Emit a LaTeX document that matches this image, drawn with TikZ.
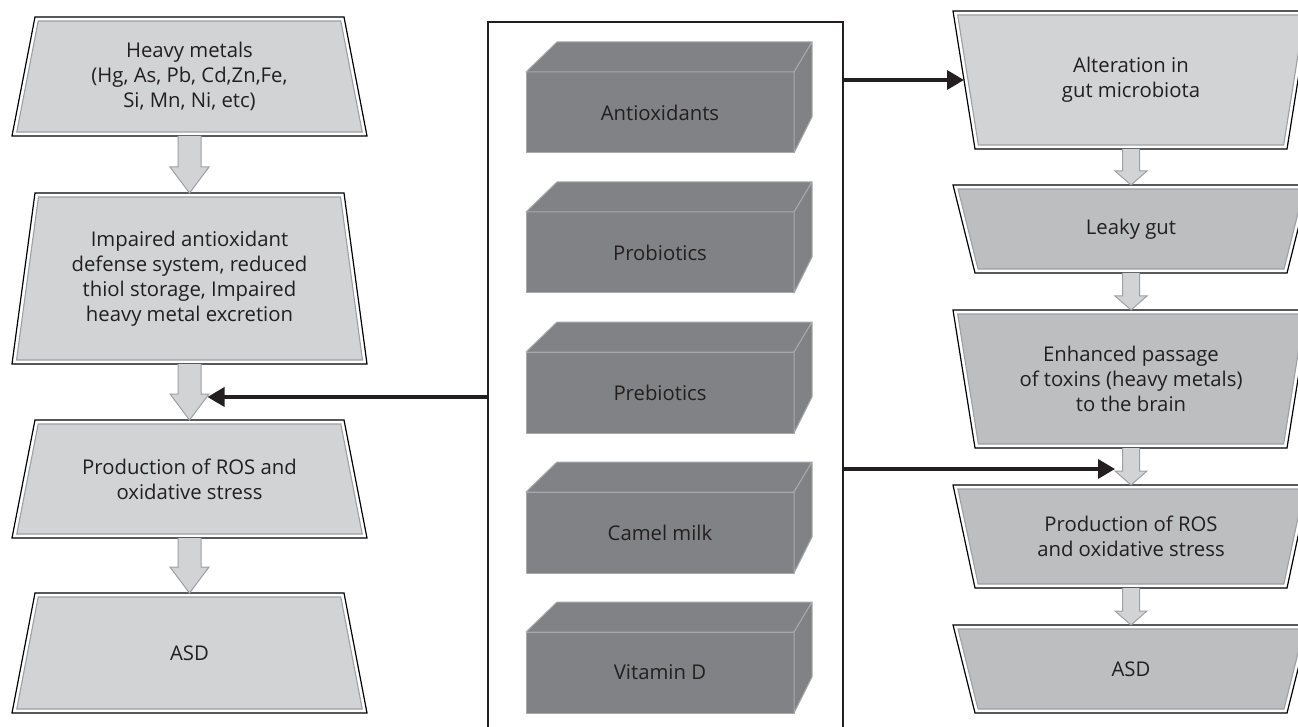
\documentclass[tikz,border=0pt]{standalone}
\usepackage{fontspec}
\setmainfont{Open Sans}
\usetikzlibrary{calc}
\usetikzlibrary{arrows.meta}

\definecolor{inkgray}{HTML}{231F20}
\definecolor{boxlight}{HTML}{D1D3D4}
\definecolor{boxdark}{HTML}{BCBEC0}
\definecolor{rimgray}{HTML}{9D9FA2}
\definecolor{cubegray}{HTML}{808285}
\definecolor{cubeedge}{HTML}{A7A9AC}

\begin{document}
\begin{tikzpicture}[x=1pt, y=-1pt, >={Triangle[length=17pt, width=19pt]},
outer/.style={draw=black, line width=1.2pt, fill=white},
rim/.style={draw=rimgray, line width=1.1pt},
cube/.style={draw=cubeedge, line width=1pt, fill=cubegray, line join=round},
blockarrow/.style={draw=rimgray, line width=1pt, fill=boxlight},
label/.style={align=center, text=inkgray, font=\fontsize{20.3}{25}\selectfont, inner sep=0pt},
link/.style={->, line width=3.6pt, draw=inkgray}]

\useasboundingbox (0,0) rectangle (1298,727);

%%%%%% TRAPEZIA %%%%%%%%%%

\foreach \nm/\cx/\yt/\yb/\tw/\bw/\col/\txt in {
  metals/189.5/17/136/154.5/177.5/boxlight/{Heavy metals\\(Hg, As, Pb, Cd,Zn,Fe,\\Si, Mn, Ni, etc)},
  defense/189.5/193/364/154.5/177.5/boxlight/{Impaired antioxidant\\defense system, reduced\\thiol storage, Impaired\\heavy metal excretion},
  ros/189.5/420/538/154.5/177.5/boxlight/{Production of ROS and\\oxidative stress},
  asd/189.5/593/713/154.5/177.5/boxlight/{ASD},
  microbiota/1131/11/149/178/156/boxlight/{Alteration in\\gut microbiota},
  leaky/1131/185/273/178/156/boxdark/{Leaky gut},
  passage/1131/310/448/178/156/boxdark/{Enhanced passage\\of toxins (heavy metals)\\to the brain},
  rosr/1131/485/588/178/156/boxdark/{Production of ROS\\and oxidative stress},
  asdr/1131/625/713/178/156/boxdark/{ASD}}
{
  \pgfmathsetmacro{\slope}{(\bw-\tw)/(\yb-\yt)}
  \pgfmathsetmacro{\innt}{\tw+4*\slope-4}
  \pgfmathsetmacro{\innb}{\bw-4*\slope-4}
  \draw[outer] (\cx-\tw,\yt) -- (\cx+\tw,\yt) -- (\cx+\bw,\yb) -- (\cx-\bw,\yb) -- cycle;
  \draw[rim, fill=\col] (\cx-\innt,\yt+4) -- (\cx+\innt,\yt+4) -- (\cx+\innb,\yb-4) -- (\cx-\innb,\yb-4) -- cycle;
  \coordinate (\nm-top) at (\cx,\yt);
  \coordinate (\nm-bot) at (\cx,\yb);
  \coordinate (\nm-west) at ({\cx-(\tw+\bw)/2},{(\yt+\yb)/2});
  \node[label] (\nm) at (\cx,{(\yt+\yb)/2}) {\txt};
}

%%%%%% BLOCK ARROWS %%%%%%%%%%

\foreach \a/\b/\w/\hw/\hl in {metals/defense/11.5/19.5/26, defense/ros/11.5/19.5/26, ros/asd/11.5/19.5/26,
  microbiota/leaky/8.5/16/14, leaky/passage/8.5/16/14, passage/rosr/8.5/16/14, rosr/asdr/8.5/16/14}
{
  \draw[blockarrow] ($(\a-bot)+(-\w,0)$) -- ($(\b-top)+(-\w,-\hl)$) -- ($(\b-top)+(-\hw,-\hl)$) -- (\b-top)
    -- ($(\b-top)+(\hw,-\hl)$) -- ($(\b-top)+(\w,-\hl)$) -- ($(\a-bot)+(\w,0)$);
}

%%%%%% REMEDIES %%%%%%%%%%

\node[draw=inkgray, line width=1.2pt, minimum width=355pt, minimum height=713pt, inner sep=0pt] (remedies) at (665.5,378.5) {};

\foreach \yb/\nm/\txt in {42/antiox/Antioxidants, 182/probio/Probiotics, 322/prebio/Prebiotics, 462/camel/Camel milk, 602/vitd/Vitamin D}
{
  \draw[cube] (526,\yb+30) rectangle (794,\yb+111);
  \draw[cube] (526,\yb+30) -- (557,\yb) -- (812,\yb) -- (794,\yb+30) -- cycle;
  \draw[cube] (794,\yb+30) -- (812,\yb) -- (812,\yb+75) -- (794,\yb+111) -- cycle;
  \node[label] (\nm) at (660,\yb+70.5) {\txt};
}

%%%%%% LINKS %%%%%%%%%%

\coordinate (feed-ros) at ($(ros-top)+(18,-23)$);
\coordinate (feed-rosr) at ($(rosr-top)+(-16,-16)$);

\draw[link] (remedies.east |- microbiota-west) -- (microbiota-west);
\draw[link] (remedies.west |- feed-ros) -- (feed-ros);
\draw[link] (remedies.east |- feed-rosr) -- (feed-rosr);

\end{tikzpicture}
\end{document}
